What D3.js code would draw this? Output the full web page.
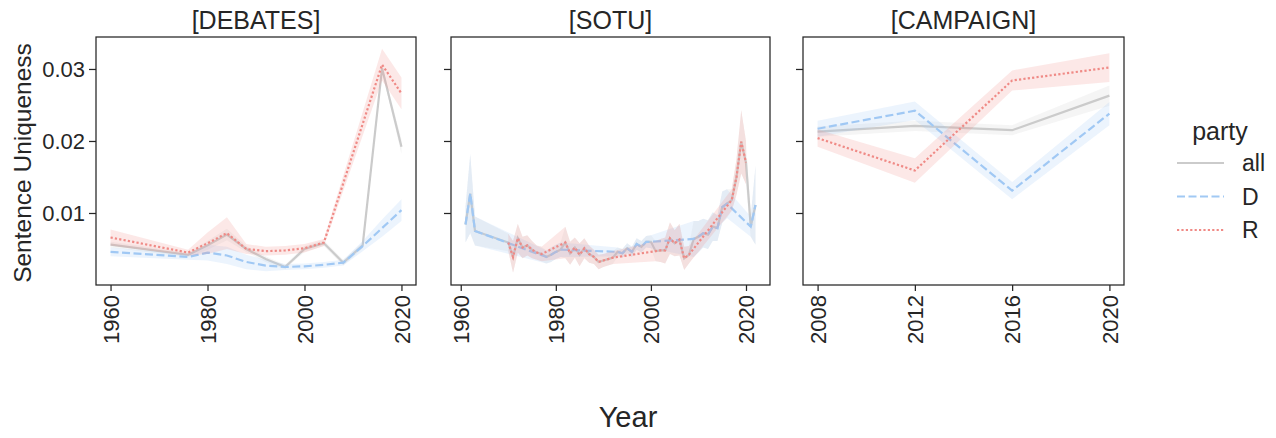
<!DOCTYPE html>
<html>
<head>
<meta charset="utf-8">
<script src="https://cdn.jsdelivr.net/npm/d3@7"></script>
<style>
  body { margin: 0; background: #fff; }
  svg text { font-family: "Liberation Sans", Arial, sans-serif; fill: #262626; }
</style>
</head>
<body>
<svg id="chart" width="1276" height="438"></svg>
<script>
// ---- data ----
var panelTitles = ["[DEBATES]", "[SOTU]", "[CAMPAIGN]"];
var parties = ["all", "D", "R"];
var yTicks = [0.01, 0.02, 0.03];
var xTicksHistoric = [1960, 1980, 2000, 2020];
var xTicksCampaign = [2008, 2012, 2016, 2020];

// debates
var debYears = [1960, 1976, 1980, 1984, 1988, 1992, 1996, 2000, 2004, 2008, 2012, 2016, 2020];
var debAll = [0.0056, 0.0042, 0.0055, 0.0070, 0.0050, 0.0036, 0.0025, 0.0050, 0.0058, 0.0031, 0.0055, 0.0301, 0.0192];
var debAllErr = [0.0004, 0.0003, 0.0006, 0.0008, 0.0004, 0.0004, 0.0003, 0.0004, 0.0004, 0.0004, 0.0004, 0.0004, 0.0010];
var debD = [0.0046, 0.0039, 0.0045, 0.0041, 0.0032, 0.0027, 0.0025, 0.0026, 0.0028, 0.0031, 0.0054, 0.0079, 0.0104];
var debDErr = [0.0006, 0.0004, 0.0011, 0.0012, 0.0010, 0.0008, 0.0004, 0.0004, 0.0004, 0.0004, 0.0007, 0.0012, 0.0015];
var debRYears = [1960, 1976, 1980, 1984, 1988, 1992, 1996, 2000, 2004, 2016, 2020];
var debR = [0.0066, 0.0045, 0.0058, 0.0072, 0.0050, 0.0047, 0.0048, 0.0051, 0.0059, 0.0306, 0.0266];
var debRErr = [0.0011, 0.0004, 0.0015, 0.0022, 0.0007, 0.0006, 0.0006, 0.0006, 0.0005, 0.0022, 0.0022];

// state of the union
var sotuDYears = [1961, 1962, 1963, 1978, 1979, 1980, 1981, 1993, 1994, 1995, 1996, 1997, 1998, 1999, 2000,
                  2009, 2010, 2011, 2012, 2013, 2014, 2015, 2016, 2021, 2022];
var sotuD = [0.0084, 0.0127, 0.0075, 0.0039, 0.0042, 0.0046, 0.0049, 0.0046, 0.0044, 0.0051, 0.0046, 0.0057, 0.0053, 0.0060, 0.0060,
             0.0064, 0.0067, 0.0072, 0.0070, 0.0081, 0.0079, 0.0108, 0.0113, 0.0081, 0.0111];
var sotuDErr = [0.0025, 0.0055, 0.0020, 0.0009, 0.0010, 0.0010, 0.0010, 0.0006, 0.0006, 0.0007, 0.0007, 0.0008, 0.0008, 0.0008, 0.0009,
                0.0025, 0.0022, 0.0020, 0.0020, 0.0020, 0.0018, 0.0022, 0.0020, 0.0014, 0.0055];
var sotuRYears = [1970, 1971, 1972, 1973, 1974, 1975, 1976, 1977, 1982, 1983, 1984, 1985, 1986, 1987, 1988, 1989, 1990, 1991, 1992,
                  2001, 2002, 2003, 2004, 2005, 2006, 2007, 2008, 2017, 2018, 2019, 2020];
var sotuR = [0.0059, 0.0039, 0.0065, 0.0052, 0.0055, 0.0049, 0.0045, 0.0043, 0.0059, 0.0044, 0.0052, 0.0042, 0.0051, 0.0043, 0.0039, 0.0032, 0.0034, 0.0036, 0.0038,
             0.0047, 0.0048, 0.0048, 0.0065, 0.0058, 0.0063, 0.0037, 0.0042, 0.0118, 0.0150, 0.0199, 0.0170];
var sotuRErr = [0.0012, 0.0022, 0.0020, 0.0015, 0.0014, 0.0012, 0.0010, 0.0010, 0.0022, 0.0016, 0.0014, 0.0016, 0.0014, 0.0012, 0.0010, 0.0010, 0.0009, 0.0009, 0.0009,
                0.0014, 0.0016, 0.0018, 0.0022, 0.0018, 0.0022, 0.0016, 0.0012, 0.0015, 0.0025, 0.0044, 0.0030];

// campaign speeches
var campYears = [2008, 2012, 2016, 2020];
var campAll = [0.0213, 0.0221, 0.0215, 0.0263];
var campAllErr = [0.0007, 0.0007, 0.0007, 0.0014];
var campD = [0.0217, 0.0242, 0.0131, 0.0238];
var campDErr = [0.0011, 0.0013, 0.0012, 0.0016];
var campR = [0.0204, 0.0159, 0.0284, 0.0302];
var campRErr = [0.0012, 0.0017, 0.0014, 0.0020];

// ---- build series ----
function series(years, values, errs) {
    return years.map(function(y, i) { return { year: y, v: values[i], lo: values[i] - errs[i], hi: values[i] + errs[i] }; });
}
// "all" in the SOTU panel is every speech, D and R together
var sotuAll = series(sotuDYears, sotuD, sotuDErr).concat(series(sotuRYears, sotuR, sotuRErr))
    .sort(function(a, b) { return a.year - b.year; });

var panels = [
    { title: panelTitles[0], x0: 96, x1: 416, domain: [1957, 2023], ticks: xTicksHistoric,
      data: { all: series(debYears, debAll, debAllErr), D: series(debYears, debD, debDErr), R: series(debRYears, debR, debRErr) } },
    { title: panelTitles[1], x0: 451, x1: 770, domain: [1957.95, 2025.05], ticks: xTicksHistoric,
      data: { all: sotuAll, D: series(sotuDYears, sotuD, sotuDErr), R: series(sotuRYears, sotuR, sotuRErr) } },
    { title: panelTitles[2], x0: 803, x1: 1124, domain: [2007.4, 2020.6], ticks: xTicksCampaign,
      data: { all: series(campYears, campAll, campAllErr), D: series(campYears, campD, campDErr), R: series(campYears, campR, campRErr) } }
];

var colors = { all: "#cbcbcb", D: "#a1c9f4", R: "#f08a86" };
var dashes = { all: null, D: "8,3.5", R: "2.2,2.2" };

var svg = d3.select("#chart");
var plotTop = 37, plotBottom = 285;
var y = d3.scaleLinear().domain([0.0, 0.03444]).range([plotBottom, plotTop]);

panels.forEach(function(p, pi) {
    var x = d3.scaleLinear().domain(p.domain).range([p.x0, p.x1]);
    var g = svg.append("g");

    var line = d3.line().x(function(d) { return x(d.year); }).y(function(d) { return y(d.v); });
    var area = d3.area().x(function(d) { return x(d.year); })
        .y0(function(d) { return y(d.lo); }).y1(function(d) { return y(d.hi); });

    parties.forEach(function(k) {
        g.append("path")
            .datum(p.data[k])
            .attr("d", line)
            .attr("fill", "none")
            .attr("stroke", colors[k])
            .attr("stroke-width", 2.2)
            .attr("stroke-dasharray", dashes[k]);
        g.append("path")
            .datum(p.data[k])
            .attr("d", area)
            .attr("fill", colors[k])
            .attr("fill-opacity", 0.2)
            .attr("stroke", "none");
    });

    // frame
    g.append("rect")
        .attr("x", p.x0).attr("y", plotTop)
        .attr("width", p.x1 - p.x0).attr("height", plotBottom - plotTop)
        .attr("fill", "none").attr("stroke", "#262626").attr("stroke-width", 1.25);

    var xAxis = g.append("g")
        .attr("transform", "translate(0," + plotBottom + ")")
        .call(d3.axisBottom(x).tickValues(p.ticks).tickFormat(d3.format("d")).tickSize(6).tickSizeOuter(0));
    xAxis.select(".domain").remove();
    xAxis.selectAll(".tick line").attr("stroke", "#262626").attr("stroke-width", 1.25);
    xAxis.selectAll(".tick text")
        .attr("font-size", 22)
        .attr("transform", "rotate(-90)")
        .attr("x", -10).attr("y", 0).attr("dy", "0.35em")
        .attr("text-anchor", "end");

    var yAxis = g.append("g")
        .attr("transform", "translate(" + p.x0 + ",0)")
        .call(d3.axisLeft(y).tickValues(yTicks).tickFormat(d3.format(".2f")).tickSize(7).tickSizeOuter(0));
    yAxis.select(".domain").remove();
    yAxis.selectAll(".tick line").attr("stroke", "#262626").attr("stroke-width", 1.25);
    yAxis.selectAll(".tick text").attr("font-size", 22).attr("x", -11);
    if (pi > 0) yAxis.selectAll(".tick text").remove();

    g.append("text")
        .attr("x", (p.x0 + p.x1) / 2).attr("y", 29)
        .attr("text-anchor", "middle")
        .attr("font-size", 25)
        .text(p.title);
});

// axis labels
svg.append("text")
    .attr("transform", "translate(31,163) rotate(-90)")
    .attr("text-anchor", "middle")
    .attr("font-size", 24.5)
    .text("Sentence Uniqueness");

svg.append("text")
    .attr("x", 628).attr("y", 427)
    .attr("text-anchor", "middle")
    .attr("font-size", 29)
    .text("Year");

// legend
var legend = svg.append("g");
legend.append("text")
    .attr("x", 1220).attr("y", 140)
    .attr("text-anchor", "middle")
    .attr("font-size", 25)
    .text("party");
parties.forEach(function(k, i) {
    var ly = 163 + i * 33.5;
    legend.append("line")
        .attr("x1", 1177).attr("x2", 1224)
        .attr("y1", ly).attr("y2", ly)
        .attr("stroke", colors[k])
        .attr("stroke-width", 2.2)
        .attr("stroke-dasharray", dashes[k]);
    legend.append("text")
        .attr("x", 1242).attr("y", ly)
        .attr("dy", "0.35em")
        .attr("font-size", 23)
        .text(k);
});
</script>
</body>
</html>
